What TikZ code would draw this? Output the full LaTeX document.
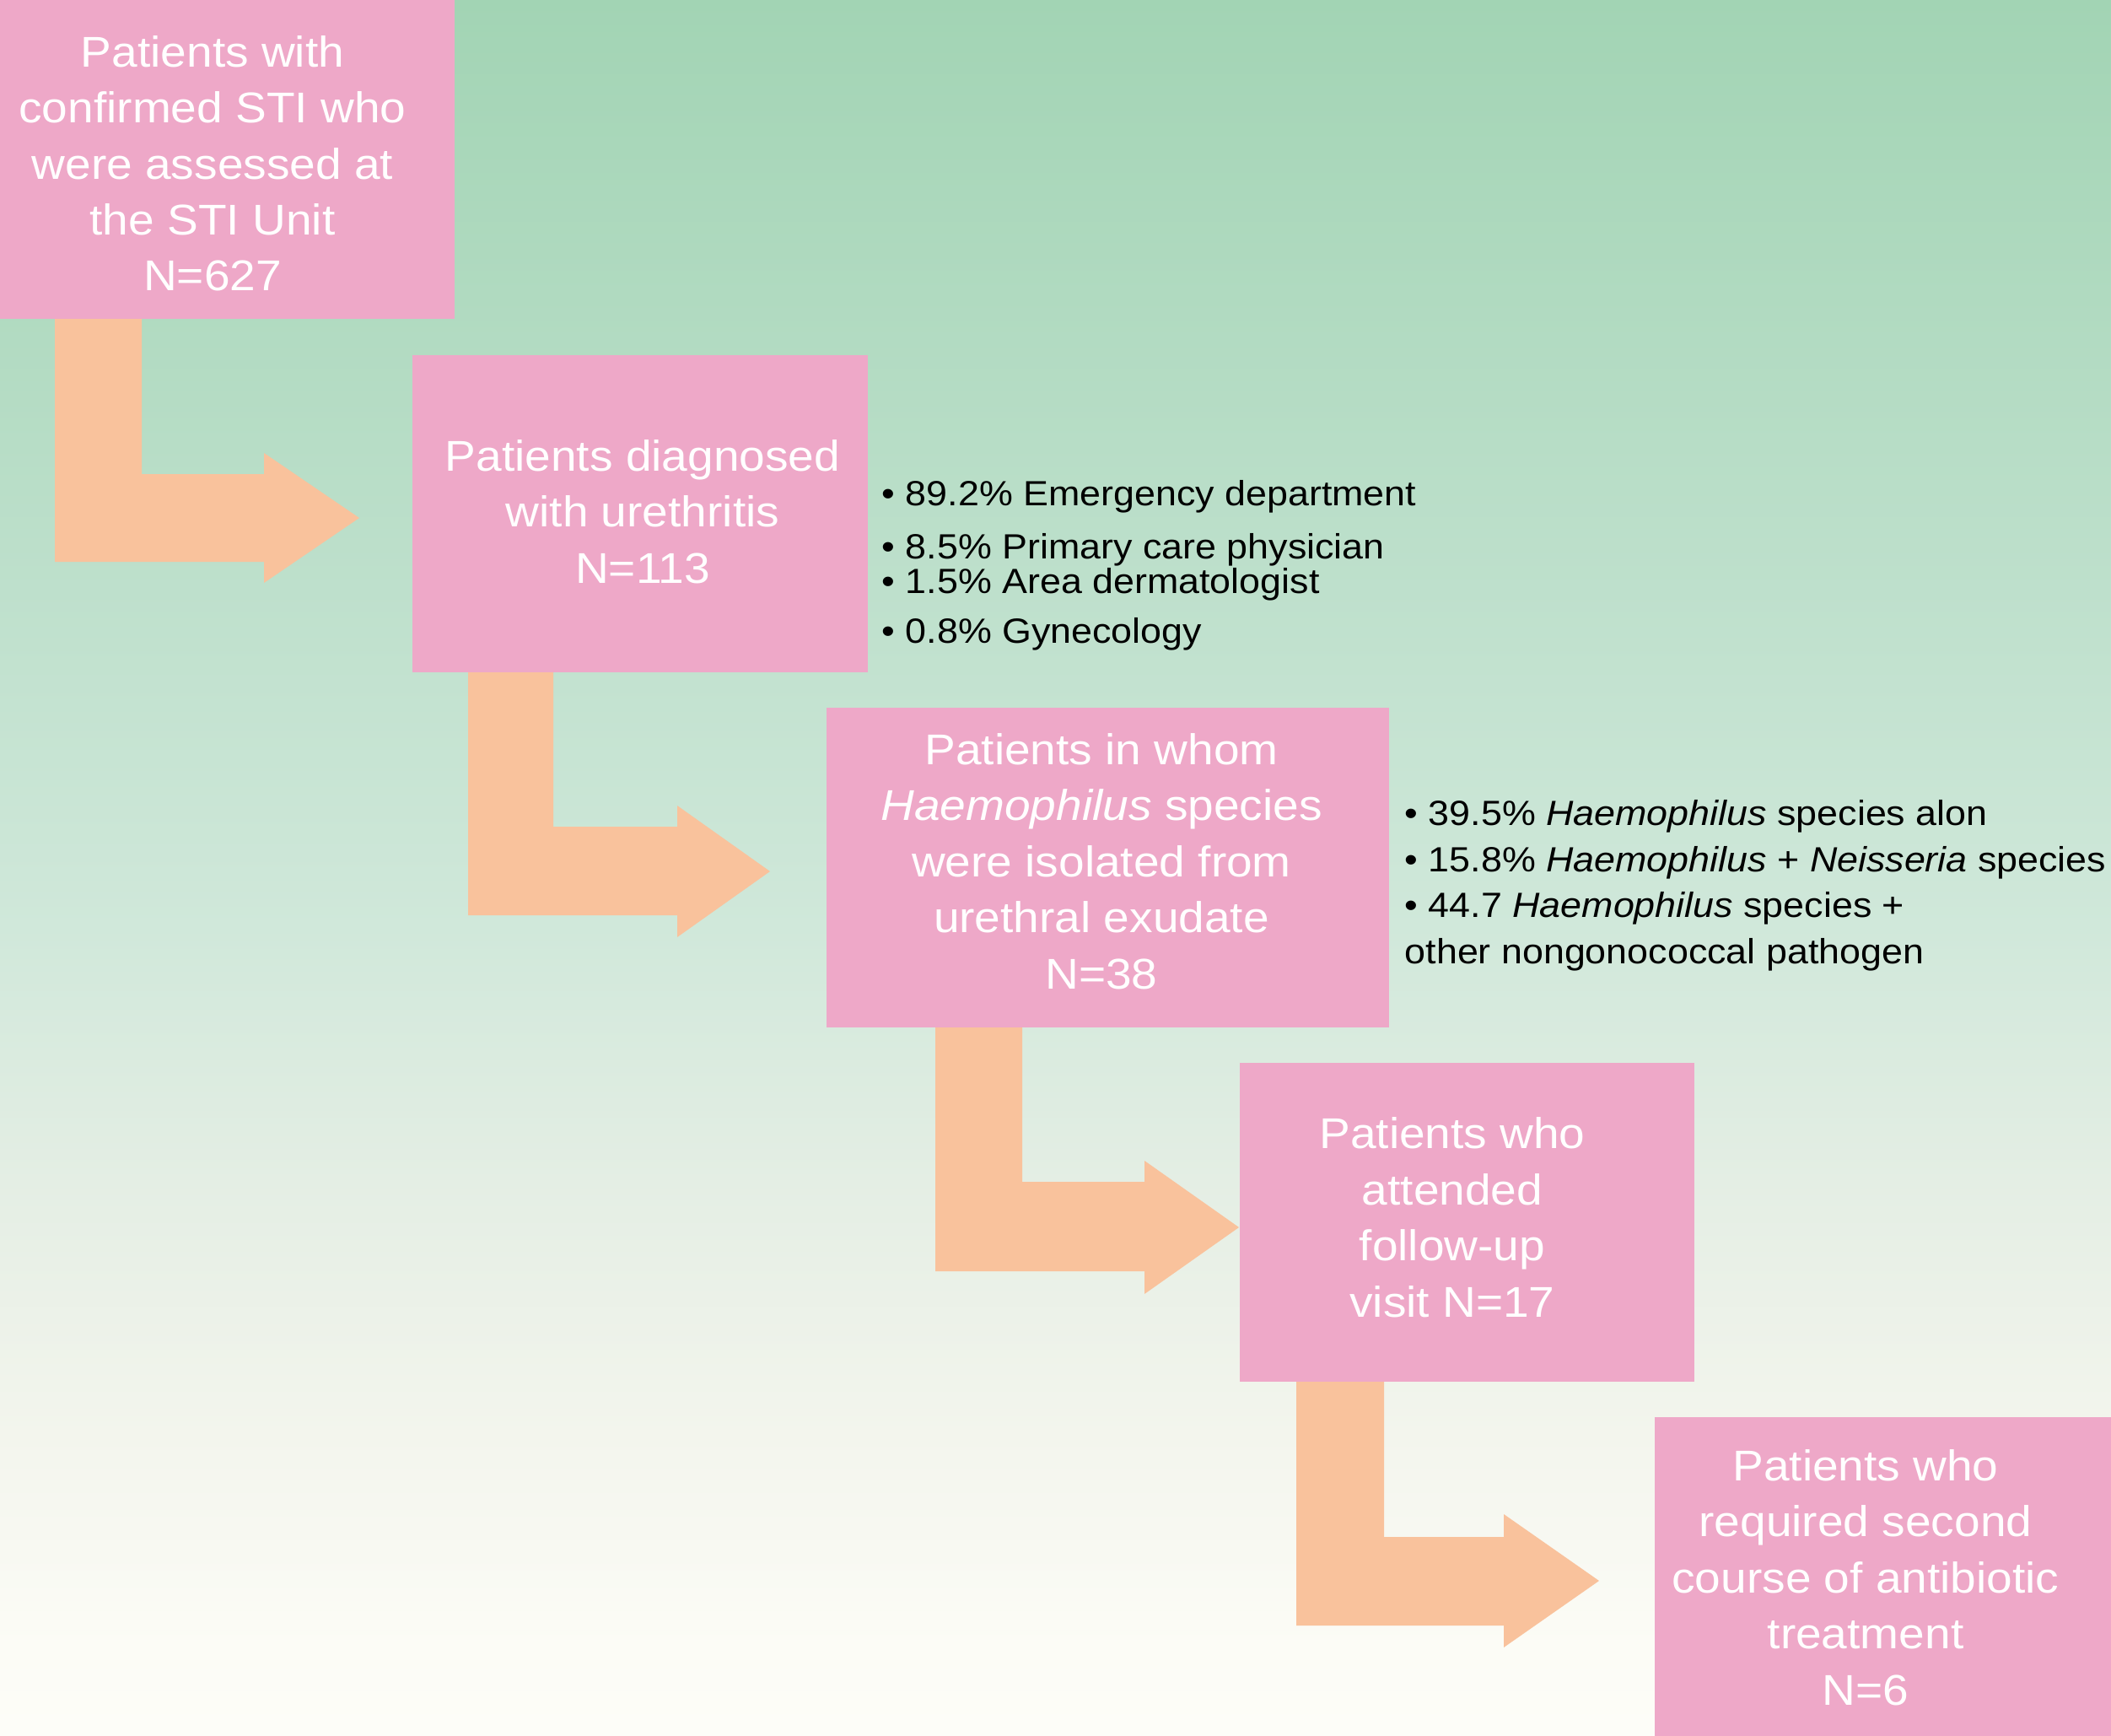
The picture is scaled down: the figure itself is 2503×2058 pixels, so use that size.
\documentclass[tikz,border=0pt]{standalone}
\usepackage{fontspec}
\setmainfont{Liberation Sans}[FakeStretch=1.08]
\definecolor{bgA}{RGB}{162,212,180}
\definecolor{bgB}{RGB}{190,224,204}
\definecolor{bgC}{RGB}{208,232,218}
\definecolor{bgD}{RGB}{228,238,228}
\definecolor{bgE}{RGB}{243,245,237}
\definecolor{bgF}{RGB}{252,252,246}
\definecolor{bgG}{RGB}{253,253,248}
\definecolor{boxpink}{RGB}{238,168,200}
\definecolor{arroworange}{RGB}{249,194,156}
\pgfdeclareverticalshading{bgshade}{100bp}{color(0bp)=(bgG); color(25bp)=(bgG); color(27.6bp)=(bgF); color(33.7bp)=(bgE); color(41bp)=(bgD); color(48.3bp)=(bgC); color(58bp)=(bgB); color(75bp)=(bgA); color(100bp)=(bgA)}
\tikzset{
  boxshape/.style={draw=none, fill=boxpink, inner sep=0pt, outer sep=0pt},
  boxtext/.style={text=white, align=center, inner sep=0pt, anchor=base, font=\fontsize{14.5}{18.9}\selectfont},
  listline/.style={text=black, inner sep=0pt, anchor=base west, font=\fontsize{11.8}{15}\selectfont},
  flowarrow/.style={fill=arroworange, draw=none}
}
\begin{document}
\begin{tikzpicture}[x=0.01cm, y=-0.01cm]
\useasboundingbox (0,0) rectangle (2503,2058);
\fill[shading=bgshade] (0,0) rectangle (2503,2058);

% arrows
\fill[flowarrow] (65,378) -- (168,378) -- (168,562) -- (313,562) -- (313,537) -- (426,614) -- (313,691) -- (313,666) -- (65,666) -- cycle;
\fill[flowarrow] (555,797) -- (656,797) -- (656,980) -- (803,980) -- (803,955) -- (913,1033) -- (803,1111) -- (803,1085) -- (555,1085) -- cycle;
\fill[flowarrow] (1109,1218) -- (1212,1218) -- (1212,1401) -- (1357,1401) -- (1357,1376) -- (1469,1455) -- (1357,1534) -- (1357,1507) -- (1109,1507) -- cycle;
\fill[flowarrow] (1537,1638) -- (1641,1638) -- (1641,1822) -- (1783,1822) -- (1783,1795) -- (1896,1874) -- (1783,1953) -- (1783,1927) -- (1537,1927) -- cycle;

% boxes
\node[boxshape, minimum width=5.39cm, minimum height=3.78cm] (b1) at (269.5,189) {};
\node[boxshape, minimum width=5.40cm, minimum height=3.76cm] (b2) at (759,609) {};
\node[boxshape, minimum width=6.67cm, minimum height=3.79cm] (b3) at (1313.5,1028.5) {};
\node[boxshape, minimum width=5.39cm, minimum height=3.78cm] (b4) at (1739.5,1449) {};
\node[boxshape, minimum width=5.41cm, minimum height=3.78cm] (b5) at (2232.5,1869) {};

% box texts (anchor = baseline of the last line)
\node[boxtext] (t1) at (252,345) {Patients with\\confirmed STI who\\were assessed at\\the STI Unit\\N=627};
\node[boxtext] (t2) at (762,691) {Patients diagnosed\\with urethritis\\N=113};
\node[boxtext] (t3) at (1306,1172) {Patients in whom\\\textit{Haemophilus} species\\were isolated from\\urethral exudate\\N=38};
\node[boxtext] (t4) at (1722,1561) {Patients who\\attended\\follow-up\\visit N=17};
\node[boxtext] (t5) at (2212,2021) {Patients who\\required second\\course of antibiotic\\treatment\\N=6};

% list 1
\node[listline] (l11) at (1045,600) {• 89.2\% Emergency department};
\node[listline] (l12) at (1045,662) {• 8.5\% Primary care physician};
\node[listline] (l13) at (1045,703) {• 1.5\% Area dermatologist};
\node[listline] (l14) at (1045,762) {• 0.8\% Gynecology};

% list 2
\node[listline] (l21) at (1665,978) {• 39.5\% \textit{Haemophilus} species alon};
\node[listline] (l22) at (1665,1033) {• 15.8\% \textit{Haemophilus} + \textit{Neisseria} species};
\node[listline] (l23) at (1665,1087) {• 44.7 \textit{Haemophilus} species +};
\node[listline] (l24) at (1665,1142) {other nongonococcal pathogen};
\end{tikzpicture}
\end{document}
